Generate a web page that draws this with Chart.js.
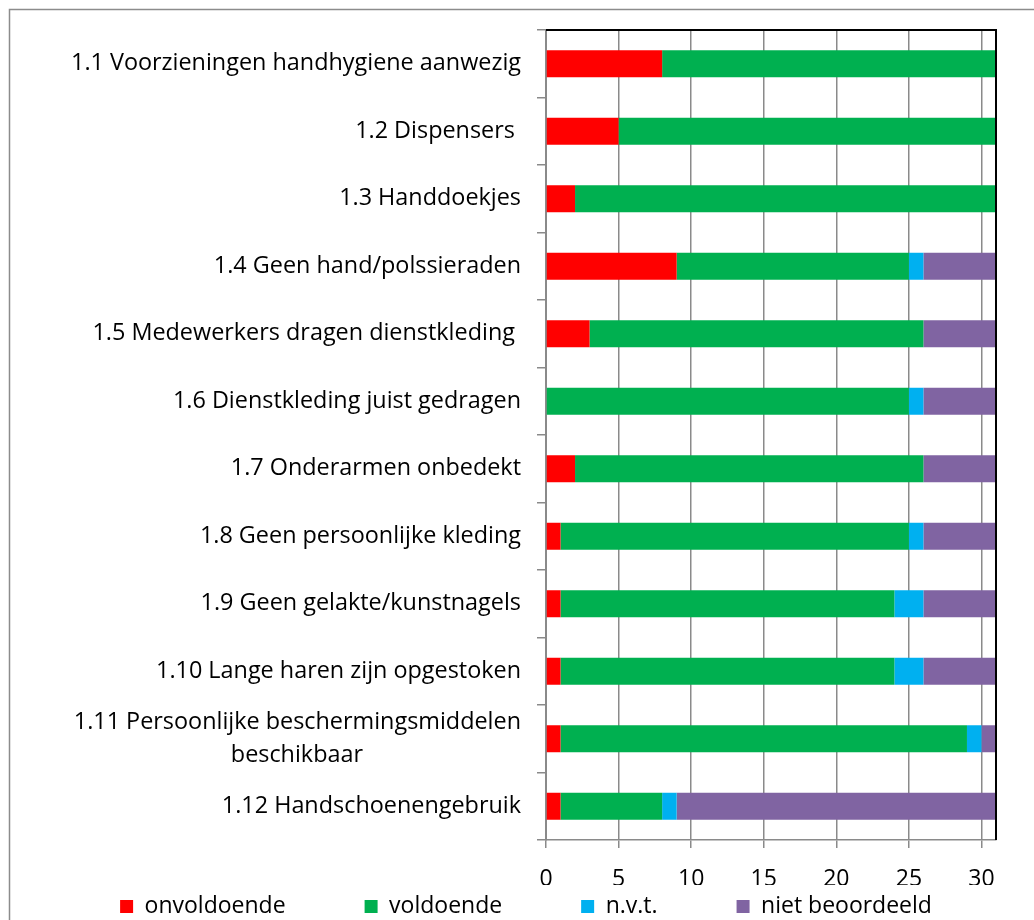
<!DOCTYPE html>
<html>
<head>
<meta charset="utf-8">
<script src="https://cdn.jsdelivr.net/npm/chart.js@4/dist/chart.umd.min.js"></script>
<style>
  html, body { margin: 0; padding: 0; background: #ffffff; }
  #wrap { width: 1034px; height: 920px; }
</style>
</head>
<body>
<div id="wrap"><canvas id="chart" width="1034" height="920"></canvas></div>
<script>
// categorieën en waarden (aantal afdelingen)
const categories = [
  '1.1 Voorzieningen handhygiene aanwezig',
  '1.2 Dispensers\u00A0',
  '1.3 Handdoekjes',
  '1.4 Geen hand/polssieraden',
  '1.5 Medewerkers dragen dienstkleding\u00A0',
  '1.6 Dienstkleding juist gedragen',
  '1.7 Onderarmen onbedekt',
  '1.8 Geen persoonlijke kleding',
  '1.9 Geen gelakte/kunstnagels',
  '1.10 Lange haren zijn opgestoken',
  ['1.11 Persoonlijke beschermingsmiddelen', 'beschikbaar'],
  '1.12 Handschoenengebruik'
];
const onvoldoende    = [8, 5, 2, 9, 3, 0, 2, 1, 1, 1, 1, 1];
const voldoende      = [23, 26, 29, 16, 23, 25, 24, 24, 23, 23, 28, 7];
const nvt            = [0, 0, 0, 1, 0, 1, 0, 1, 2, 2, 1, 1];
const nietBeoordeeld = [0, 0, 0, 5, 5, 5, 5, 5, 5, 5, 1, 22];
const xTicks = [0, 5, 10, 15, 20, 25, 30];
const xMax = 31;

const FONT = '"Open Sans"';
const LABEL_SIZE = 23.4;
const TICK_SIZE = 23;
const GRID = '#8a8a8a';
const PAD_LEFT = 56;

// tweede regel van een label centreren onder de eerste (rechts uitgelijnd + spaties)
const measureCtx = document.createElement('canvas').getContext('2d');
measureCtx.font = LABEL_SIZE + 'px ' + FONT;
function centerLines(lines) {
  if (!Array.isArray(lines)) return lines;
  const w0 = measureCtx.measureText(lines[0]).width;
  const sp = measureCtx.measureText('\u00A0').width;
  return lines.map((l, i) => {
    if (i === 0) return l;
    const pad = (w0 - measureCtx.measureText(l).width) / 2;
    return l + '\u00A0'.repeat(Math.max(0, Math.round(pad / sp)));
  });
}

const framePlugin = {
  id: 'frame',
  beforeDraw(chart) {
    const ctx = chart.ctx;
    ctx.save();
    ctx.strokeStyle = '#8c8c8c';
    ctx.lineWidth = 1.5;
    ctx.beginPath();
    ctx.moveTo(9.5, chart.height);
    ctx.lineTo(9.5, 9.5);
    ctx.lineTo(chart.width, 9.5);
    ctx.stroke();
    ctx.restore();
  },
  afterDatasetsDraw(chart) {
    const { ctx, chartArea: a } = chart;
    ctx.save();
    ctx.strokeStyle = '#000000';
    ctx.lineWidth = 2;
    ctx.beginPath();
    ctx.moveTo(a.left, a.top);
    ctx.lineTo(a.right, a.top);
    ctx.lineTo(a.right, a.bottom);
    ctx.stroke();
    ctx.restore();
  }
};

const legendGap = '\u2002'.repeat(6);

new Chart(document.getElementById('chart'), {
  type: 'bar',
  data: {
    labels: categories,
    datasets: [
      { label: 'onvoldoende', data: onvoldoende, backgroundColor: '#ff0000' },
      { label: 'voldoende', data: voldoende, backgroundColor: '#00b050' },
      { label: 'n.v.t.', data: nvt, backgroundColor: '#00b0f0' },
      { label: 'niet beoordeeld', data: nietBeoordeeld, backgroundColor: '#8064a2' }
    ]
  },
  options: {
    indexAxis: 'y',
    responsive: false,
    animation: false,
    events: [],
    datasets: { bar: { barPercentage: 0.4, categoryPercentage: 1.0, borderWidth: 0 } },
    layout: { padding: { top: 30, right: 38, bottom: -8, left: PAD_LEFT } },
    scales: {
      x: {
        type: 'linear',
        stacked: true,
        position: 'bottom',
        min: 0,
        max: xMax,
        afterBuildTicks: scale => { scale.ticks = xTicks.map(v => ({ value: v })); },
        afterFit: scale => { scale.height = 45; },
        grid: { color: GRID, lineWidth: 1.5, tickLength: 8 },
        border: { color: GRID, width: 1.5 },
        ticks: { color: '#000000', padding: 18, font: { family: FONT, size: TICK_SIZE } }
      },
      y: {
        type: 'category',
        stacked: true,
        afterFit: scale => {
          scale.width = 546 - PAD_LEFT;
          scale.paddingTop = 0;
          scale.paddingBottom = 0;
        },
        grid: { drawOnChartArea: false, offset: true, color: GRID, lineWidth: 1.5, tickLength: 9 },
        border: { color: GRID, width: 2 },
        ticks: {
          autoSkip: false,
          color: '#000000',
          padding: 16,
          font: { family: FONT, size: LABEL_SIZE, lineHeight: 1.4 },
          callback: function (value) { return centerLines(this.getLabelForValue(value)); }
        }
      }
    },
    plugins: {
      tooltip: { enabled: false },
      legend: {
        position: 'bottom',
        labels: {
          color: '#000000',
          boxWidth: 13,
          boxHeight: 13,
          padding: 10,
          font: { family: FONT, size: TICK_SIZE },
          generateLabels(chart) {
            const items = Chart.defaults.plugins.legend.labels.generateLabels(chart);
            items.forEach((it, i) => {
              if (i < items.length - 1) it.text += legendGap;
              it.lineWidth = 0;
            });
            return items;
          }
        }
      }
    }
  },
  plugins: [framePlugin]
});
</script>
</body>
</html>
